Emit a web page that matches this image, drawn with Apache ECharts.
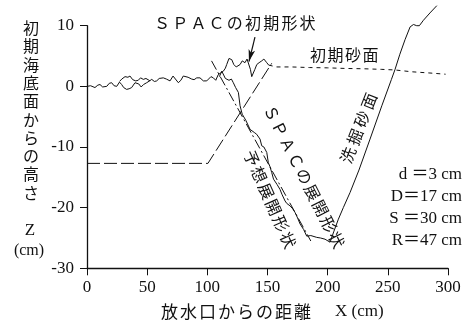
<!DOCTYPE html>
<html>
<head>
<meta charset="utf-8">
<script src="https://cdn.jsdelivr.net/npm/echarts@6/dist/echarts.min.js"></script>
<style>
  html, body { margin: 0; padding: 0; background: #fff; }
  #chart { width: 476px; height: 334px; }
</style>
</head>
<body>
<div id="chart"></div>
<script>
// Axis ranges / ticks (cm)
const xTicks = [0, 50, 100, 150, 200, 250, 300];
const zTicks = [-30, -20, -10, 0, 10];

// Initial sea-bottom profile (solid wavy)
const bedX = [0,3,6.6,9,10.8,13,16.4,18.5,20.5,22.5,24.7,27,28.8,30.5,32.9,35,37.1,39.9,41.5,43,45,47,49.6,52,53.8,56,57.9,60,63.4,66,69,71.5,73.1,75.9,78,80,81.5,84,87,89,91.2,93.9,96.7,99.5,101,103,105,107,109,111];
const bedZ = [0,0.1,-0.2,0.2,0.3,-0.1,0,0.5,0.6,0.1,0,0.7,0.3,-0.2,-0.5,-0.4,-0.2,0.6,0.9,0.4,-0.1,0.3,0.6,0.9,1.15,0.8,0.9,1.3,1.4,1.2,0.9,1.7,2.0,0.6,1.0,1.7,1.4,1.5,1.2,1.1,1.4,1.4,0.9,0.9,1.2,1.6,1.4,1.0,1.9,2.2];

// Second trace of the bed over the doubled stretch
const bed2X = [27,28.9,31.6,34,35.7,38,40.5,42.6,44.5,46.8,49,52.4];
const bed2Z = [0.8,1.2,1.6,1.5,1.7,1.1,0.9,1.0,1.4,1.15,1.3,0.9];

// Initial SPAC shape
const spacInitX = [111,113.3,115,116.1,118,120.3,122,124,127.2,129,131.3,133,134.6,135.8,136.9,138.2,139.5,141.1,143,145.2,147,149.4,151];
const spacInitZ = [2.2,2.5,3.0,3.6,4.6,4.4,3.6,3.2,3.6,4.2,3.9,4.5,4.2,2.8,1.6,1.5,2.8,3.6,3.9,4.2,4.5,3.9,3.5];

// Deployed SPAC shape (measured)
const spacDeployX = [110,112,113.3,115,116.5,118,120,121.6,123.5,125.8,127.2,129,132,135.5,139,141,143.8,145.2,147,149.4,150.7,152,153.5,155,158,160.4,162,164.6,166,168.7,171,172.9,175,177.1,180,182.6,186,190.9,194,197.8];
const spacDeployZ = [1.6,2.5,2.2,1.3,1.6,1.0,1.2,0.6,-0.2,-1.0,-3.2,-4.6,-5.6,-7.1,-7.6,-7.9,-8.7,-9.8,-10.0,-10.9,-12.6,-13.2,-14.2,-15.3,-16.2,-17.0,-17.8,-18.9,-19.3,-19.7,-20.2,-20.8,-21.7,-22.7,-23.6,-24.7,-24.6,-24.9,-25.0,-25.2];

// Predicted deployed shape (dash-dot straight line)
const predX = [103.5, 186];
const predZ = [4.2, -25.5];

// Excavation outline (long dashes)
const pitX = [0, 100.5, 153.5];
const pitZ = [-12.7, -12.7, 3.8];

// Initial sand surface (short dashes)
const sandX = [151,157.7,170,185,200,215,230,245,256,270,285,298];
const sandZ = [3.5,3.2,3.2,3.1,3.05,2.95,2.9,2.8,2.7,2.4,2.2,2.0];

// Scoured sand surface (runs above the top of the Z axis)
const scourX = [197.8,202,205,208.9,213,218.6,226,235.2,245,253,256,260,264.3,268.5,271.3,274,276.2,279.6,285,290.7];
const scourZ = [-25.2,-25.7,-24.0,-21.9,-20.0,-17.5,-13.8,-8.7,-3.2,1.15,2.8,5.3,7.7,9.8,10.2,10.0,10.0,10.9,12.1,13.3];

// Arrow from the "initial shape" caption down to the profile
const arrowFrom = [139.6, 8.1];
const arrowTo = [134.6, 4.1];

// Experiment parameters
const params = ['d ＝3 cm', 'D＝17 cm', 'S ＝30 cm', 'R＝47 cm'];

const INK = '#111';
const CJK = '"Noto Sans CJK JP"';
const SERIF = '"Liberation Serif", "Times New Roman", serif';

const zip = (xs, ys) => xs.map((x, i) => [x, ys[i]]);

function lineSeries(xs, ys, type, width, extra) {
  return Object.assign({
    type: 'line',
    data: zip(xs, ys),
    showSymbol: false,
    symbol: 'none',
    smooth: false,
    silent: true,
    lineStyle: { color: INK, width: width, type: type }
  }, extra || {});
}

// Lay out a string one glyph at a time along a direction (screen degrees, y down)
function charRun(str, x0, y0, pitch, angleDeg, size, family) {
  const a = angleDeg * Math.PI / 180;
  const dx = Math.cos(a), dy = Math.sin(a);
  return Array.from(str).map((ch, i) => ({
    type: 'text',
    x: x0 + dx * pitch * i,
    y: y0 + dy * pitch * i,
    rotation: angleDeg === 90 ? 0 : -a,
    silent: true,
    style: {
      text: ch,
      fill: INK,
      font: size + 'px ' + (family || CJK),
      align: 'center',
      verticalAlign: 'middle'
    }
  }));
}

function plainText(str, x, y, size, family, align) {
  return {
    type: 'text', x: x, y: y, silent: true,
    style: { text: str, fill: INK, font: size + 'px ' + family, align: align || 'center', verticalAlign: 'middle' }
  };
}

const graphics = [].concat(
  charRun('ＳＰＡＣの初期形状', 162, 23, 18.2, 0, 16),
  charRun('初期砂面', 318, 55, 17.5, 0, 16),
  charRun('洗掘砂面', 348, 155, 19.3, -68.7, 16),
  charRun('ＳＰＡＣの展開形状', 272, 113, 17.8, 63, 16),
  charRun('予想展開形状', 251.7, 158.3, 17.9, 66, 16),
  charRun('初期海底面からの高さ', 31, 28, 18.3, 90, 16),
  [plainText('Z', 30, 231, 17, SERIF), plainText('(cm)', 29, 251, 16, SERIF)],
  charRun('放水口からの距離', 169.5, 312, 19, 0, 17),
  [plainText('X (cm)', 335, 312, 17, SERIF, 'left')],
  params.map((p, i) => plainText(p, 462, 175 + i * 21.7, 17, SERIF + ', ' + CJK, 'right'))
);

const chart = echarts.init(document.getElementById('chart'), null, { renderer: 'canvas' });
chart.setOption({
  animation: false,
  backgroundColor: '#fff',
  grid: { left: 87, right: 28, top: 25.7, bottom: 65.7, containLabel: false },
  xAxis: {
    type: 'value',
    min: xTicks[0], max: xTicks[xTicks.length - 1], interval: xTicks[1] - xTicks[0],
    axisLine: { show: true, onZero: false, lineStyle: { color: INK, width: 1.3 } },
    axisTick: { show: true, length: 7, lineStyle: { color: INK, width: 1 } },
    axisLabel: { color: INK, fontFamily: SERIF, fontSize: 17, margin: 11 },
    splitLine: { show: false }
  },
  yAxis: {
    type: 'value',
    min: zTicks[0], max: zTicks[zTicks.length - 1], interval: zTicks[1] - zTicks[0],
    axisLine: { show: true, onZero: false, lineStyle: { color: INK, width: 1.3 } },
    axisTick: { show: true, length: 7, lineStyle: { color: INK, width: 1 } },
    axisLabel: { color: INK, fontFamily: SERIF, fontSize: 17, margin: 13 },
    splitLine: { show: false }
  },
  series: [
    lineSeries(bedX, bedZ, 'solid', 1),
    lineSeries(bed2X, bed2Z, 'solid', 1),
    lineSeries(spacInitX, spacInitZ, 'solid', 1, {
      markLine: {
        silent: true,
        symbol: ['none', 'arrow'],
        label: { show: false },
        lineStyle: { color: INK, width: 1.2, type: 'solid' },
        data: [[
          { coord: arrowFrom, symbol: 'none' },
          { coord: arrowTo, symbol: 'arrow', symbolSize: [5, 12] }
        ]]
      }
    }),
    lineSeries(spacDeployX, spacDeployZ, 'solid', 1),
    lineSeries(predX, predZ, [10, 3, 2, 3], 1),
    lineSeries(pitX, pitZ, [13, 4], 1),
    lineSeries(sandX, sandZ, [4, 4], 1),
    lineSeries(scourX, scourZ, 'solid', 1, { clip: false })
  ],
  graphic: graphics
});
</script>
</body>
</html>
